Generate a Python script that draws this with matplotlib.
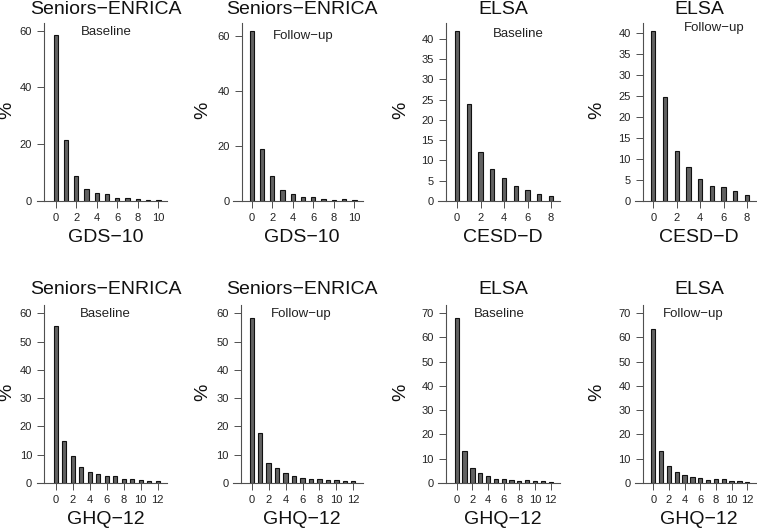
import matplotlib
matplotlib.use("Agg")
import matplotlib.pyplot as plt
import numpy as np

plt.rcParams["font.family"] = ["Liberation Sans", "DejaVu Sans"]

# distributions (% of participants per score)
gds_enrica_base = [58.5, 21.5, 8.8, 4.1, 2.8, 2.5, 1.2, 1.0, 0.6, 0.5, 0.4]
gds_enrica_fu = [61.8, 19.0, 9.1, 3.9, 2.7, 1.5, 1.6, 0.8, 0.5, 0.6, 0.2]
cesd_elsa_base = [42.0, 24.0, 12.1, 8.0, 5.6, 3.7, 2.6, 1.8, 1.2]
cesd_elsa_fu = [40.6, 24.8, 11.8, 8.2, 5.2, 3.6, 3.3, 2.4, 1.5]
ghq_enrica_base = [55.5, 14.7, 9.4, 5.7, 4.0, 3.2, 2.4, 2.4, 1.4, 1.3, 0.9, 0.8, 0.7]
ghq_enrica_fu = [58.2, 17.5, 7.2, 5.2, 3.7, 2.6, 1.7, 1.5, 1.3, 0.9, 1.0, 0.7, 0.7]
ghq_elsa_base = [68.1, 13.2, 6.2, 4.1, 2.9, 1.6, 1.5, 1.4, 1.0, 1.2, 0.7, 0.8, 0.4]
ghq_elsa_fu = [63.6, 13.4, 6.9, 4.5, 3.3, 2.5, 1.9, 1.4, 1.6, 1.5, 1.0, 0.8, 0.4]

studies = ["Seniors\u2212ENRICA", "Seniors\u2212ENRICA", "ELSA", "ELSA"] * 2
waves = ["Baseline", "Follow\u2212up"] * 4
scales = ["GDS\u221210", "GDS\u221210", "CESD\u2212D", "CESD\u2212D"] + ["GHQ\u221212"] * 4
series = [gds_enrica_base, gds_enrica_fu, cesd_elsa_base, cesd_elsa_fu,
          ghq_enrica_base, ghq_enrica_fu, ghq_elsa_base, ghq_elsa_fu]
yticks = [np.arange(0, 61, 20), np.arange(0, 61, 20), np.arange(0, 41, 5), np.arange(0, 41, 5),
          np.arange(0, 61, 10), np.arange(0, 61, 10), np.arange(0, 71, 10), np.arange(0, 71, 10)]

W, H = 757, 528
# layout in pixels: left, right, baseline, top, pixel of x=0, px per unit, y-axis px, ymax
layout = [
    (37, 167, 201, 23, 55.7, 10.27, 44, 62.7),
    (233, 363, 201, 23, 251.7, 10.27, 241.7, 64.7),
    (438, 560, 201, 23, 457, 11.75, 446, 43.9),
    (635, 757, 201, 23, 653.3, 11.7, 642.7, 42.4),
    (37, 167, 483, 305, 55.7, 8.5, 44.3, 62.9),
    (233, 363, 483, 305, 251.7, 8.47, 241, 62.9),
    (438, 560, 483, 305, 456.7, 7.83, 446, 73.4),
    (635, 757, 483, 305, 653.3, 7.83, 642.7, 73.4),
]
centers = [106, 302, 503, 699]
wave_pos = [(106, 32), (303, 36), (518, 34), (714, 28),
            (105, 314), (301, 314), (499, 314), (693, 314)]
pct_x = [7, 203, 401, 597]

fig = plt.figure(figsize=(W / 100, H / 100), dpi=100)
axcol = "#505050"
txtcol = "#222222"

for i, vals in enumerate(series):
    L, R, B, T, x0, ppu, yax, ymax = layout[i]
    ax = fig.add_axes([L / W, 1 - B / H, (R - L) / W, (B - T) / H])
    x = np.arange(len(vals))
    ax.bar(x, vals, width=4.3 / ppu, color="#626262", edgecolor="#111111", linewidth=0.8)
    ax.set_xlim((L - x0) / ppu, (R - x0) / ppu)
    ax.set_ylim(0, ymax)
    for s in ["top", "right"]:
        ax.spines[s].set_visible(False)
    ax.spines["left"].set_position(("data", (yax - x0) / ppu))
    ax.spines["left"].set_color(axcol)
    ax.spines["bottom"].set_color(axcol)
    ax.spines["left"].set_linewidth(0.8)
    ax.spines["bottom"].set_linewidth(0.8)
    ax.set_yticks(yticks[i])
    ax.set_xticks(np.arange(0, len(vals), 2))
    ax.tick_params(axis="both", labelsize=8, colors=axcol, labelcolor=txtcol,
                   length=5.2, width=0.7, direction="out", pad=3.5)
    ax.patch.set_alpha(0)

    col = i % 4
    row = i // 4
    cx = centers[col]
    ty = 9 if row == 0 else 290
    xy = 238 if row == 0 else 520
    fig.text(cx / W, 1 - ty / H, studies[i], ha="center", va="center", fontsize=14, color="#111111")
    fig.text(cx / W, 1 - xy / H, scales[i], ha="center", va="center", fontsize=14, color="#111111")
    wx, wy = wave_pos[i]
    fig.text(wx / W, 1 - wy / H, waves[i], ha="center", va="center", fontsize=9.5, color=txtcol)
    py = 110 if row == 0 else 392
    fig.text(pct_x[col] / W, 1 - py / H, "%", ha="center", va="center", fontsize=14,
             rotation=90, color="#111111")

fig.savefig("out.png", dpi=100)
